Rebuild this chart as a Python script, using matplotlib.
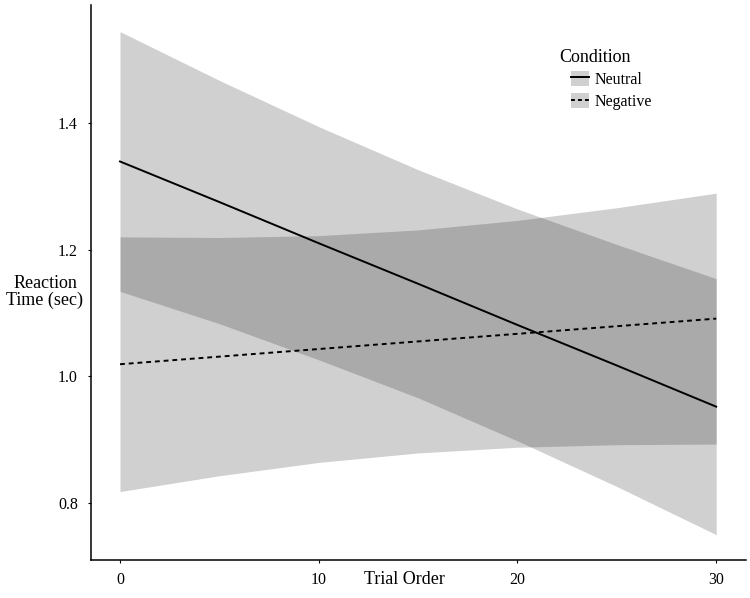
import matplotlib
matplotlib.use("Agg")
import matplotlib.pyplot as plt
from matplotlib.patches import Patch
from matplotlib.lines import Line2D

plt.rcParams["font.family"] = ["Liberation Serif", "DejaVu Serif"]

# values
trial = [0, 5, 10, 15, 20, 25, 30]

neutral_fit = [1.339, 1.275, 1.210, 1.146, 1.081, 1.017, 0.952]
neutral_upper = [1.544, 1.467, 1.394, 1.326, 1.264, 1.208, 1.154]
neutral_lower = [1.134, 1.083, 1.026, 0.966, 0.898, 0.826, 0.750]

negative_fit = [1.019, 1.031, 1.043, 1.055, 1.067, 1.079, 1.091]
negative_upper = [1.220, 1.219, 1.222, 1.231, 1.246, 1.266, 1.289]
negative_lower = [0.818, 0.843, 0.864, 0.879, 0.888, 0.892, 0.893]

conditions = ["Neutral", "Negative"]
x_ticks = [0, 10, 20, 30]
y_ticks = [0.8, 1.0, 1.2, 1.4]

fig = plt.figure(figsize=(7.5, 5.98), dpi=100)
ax = fig.add_axes([91 / 750, 38 / 598, 655 / 750, 555 / 598])

# ribbons (overlap gets darker)
ax.fill_between(trial, neutral_lower, neutral_upper, color="#141414", alpha=0.2, linewidth=0)
ax.fill_between(trial, negative_lower, negative_upper, color="#141414", alpha=0.2, linewidth=0)

# fitted lines
ax.plot(trial, neutral_fit, color="black", linewidth=1.4, linestyle="-")
ax.plot(trial, negative_fit, color="black", linewidth=1.4, linestyle=(0, (2.5, 2)))

ax.set_xlim(-1.46, 31.5)
ax.set_ylim(0.710, 1.586)
ax.set_xticks(x_ticks)
ax.set_xticklabels([str(t) for t in x_ticks])
ax.set_yticks(y_ticks)
ax.set_yticklabels([f"{t:.1f}" for t in y_ticks])
ax.tick_params(axis="both", length=2.5, width=0.8, color="black", labelsize=11.5)
ax.tick_params(axis="y", pad=7)
ax.tick_params(axis="x", pad=6)

for side in ["top", "right"]:
    ax.spines[side].set_visible(False)
for side in ["left", "bottom"]:
    ax.spines[side].set_linewidth(1.1)
    ax.spines[side].set_color("black")

# axis titles
fig.text(45 / 750, 1 - 292 / 598, "Reaction\nTime (sec)", ha="center", va="center",
         fontsize=13, linespacing=1.05)
fig.text(404 / 750, 1 - 579 / 598, "Trial Order", ha="center", va="center", fontsize=13)

# legend
handles = [
    (Patch(facecolor="#d0d0d0", edgecolor="none"), Line2D([], [], color="black", linewidth=1.4)),
    (Patch(facecolor="#d0d0d0", edgecolor="none"),
     Line2D([], [], color="black", linewidth=1.4, linestyle=(0, (2, 1.6)))),
]
leg = ax.legend(handles, conditions, loc="upper left", bbox_to_anchor=(0.733, 0.881),
                frameon=False, fontsize=11.5, handlelength=1.1, handleheight=1.05,
                handletextpad=0.35, labelspacing=0.35, borderpad=0, borderaxespad=0)
ax.text(0.7155, 0.906, "Condition", transform=ax.transAxes, ha="left", va="center", fontsize=13)

plt.savefig("out.png", dpi=100)
